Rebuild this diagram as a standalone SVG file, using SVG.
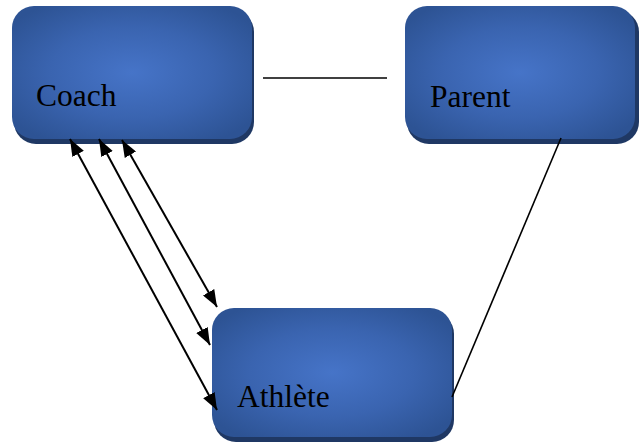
<svg xmlns="http://www.w3.org/2000/svg" width="639" height="445" viewBox="0 0 639 445">
  <defs>
    <radialGradient id="boxFill" cx="0.5" cy="0.5" r="0.62">
      <stop offset="0" stop-color="#4674C8"/>
      <stop offset="0.55" stop-color="#3A64B0"/>
      <stop offset="1" stop-color="#2D5394"/>
    </radialGradient>
    <marker id="head" viewBox="0 0 17 13" refX="17" refY="6.5" markerWidth="17" markerHeight="13" markerUnits="userSpaceOnUse" orient="auto-start-reverse">
      <path d="M0,0 L17,6.5 L0,13 Z" fill="#000"/>
    </marker>
  </defs>
  <style>
    .shadow { fill: #1F3864; }
    .box { fill: url(#boxFill); }
    .label { font-family: "Liberation Serif", "Times New Roman", serif; font-size: 31.5px; fill: #000; }
    .link { stroke: #000; stroke-width: 1.6; fill: none; }
    .both { stroke: #000; stroke-width: 2; fill: none; marker-start: url(#head); marker-end: url(#head); }
  </style>
  <rect width="639" height="445" fill="#fff"/>

  <g id="coach">
    <rect class="shadow" x="14" y="10" width="240" height="134" rx="22"/>
    <rect class="box" x="12" y="6" width="240" height="133" rx="22"/>
    <text class="label" x="36" y="106">Coach</text>
  </g>

  <g id="parent">
    <rect class="shadow" x="407" y="10" width="232" height="134" rx="22"/>
    <rect class="box" x="405" y="6" width="230" height="133" rx="22"/>
    <text class="label" x="430" y="107">Parent</text>
  </g>

  <g id="athlete">
    <rect class="shadow" x="214" y="312" width="240" height="130" rx="22"/>
    <rect class="box" x="212" y="308" width="240" height="129" rx="22"/>
    <text class="label" x="237" y="407">Athlète</text>
  </g>

  <g id="connectors">
    <line class="link" x1="263" y1="78" x2="387" y2="78"/>
    <line class="link" x1="561" y1="138" x2="452" y2="397"/>
    <line class="both" x1="70" y1="139" x2="217" y2="410"/>
    <line class="both" x1="99" y1="139" x2="210" y2="345"/>
    <line class="both" x1="122" y1="140" x2="217" y2="307"/>
  </g>
</svg>
